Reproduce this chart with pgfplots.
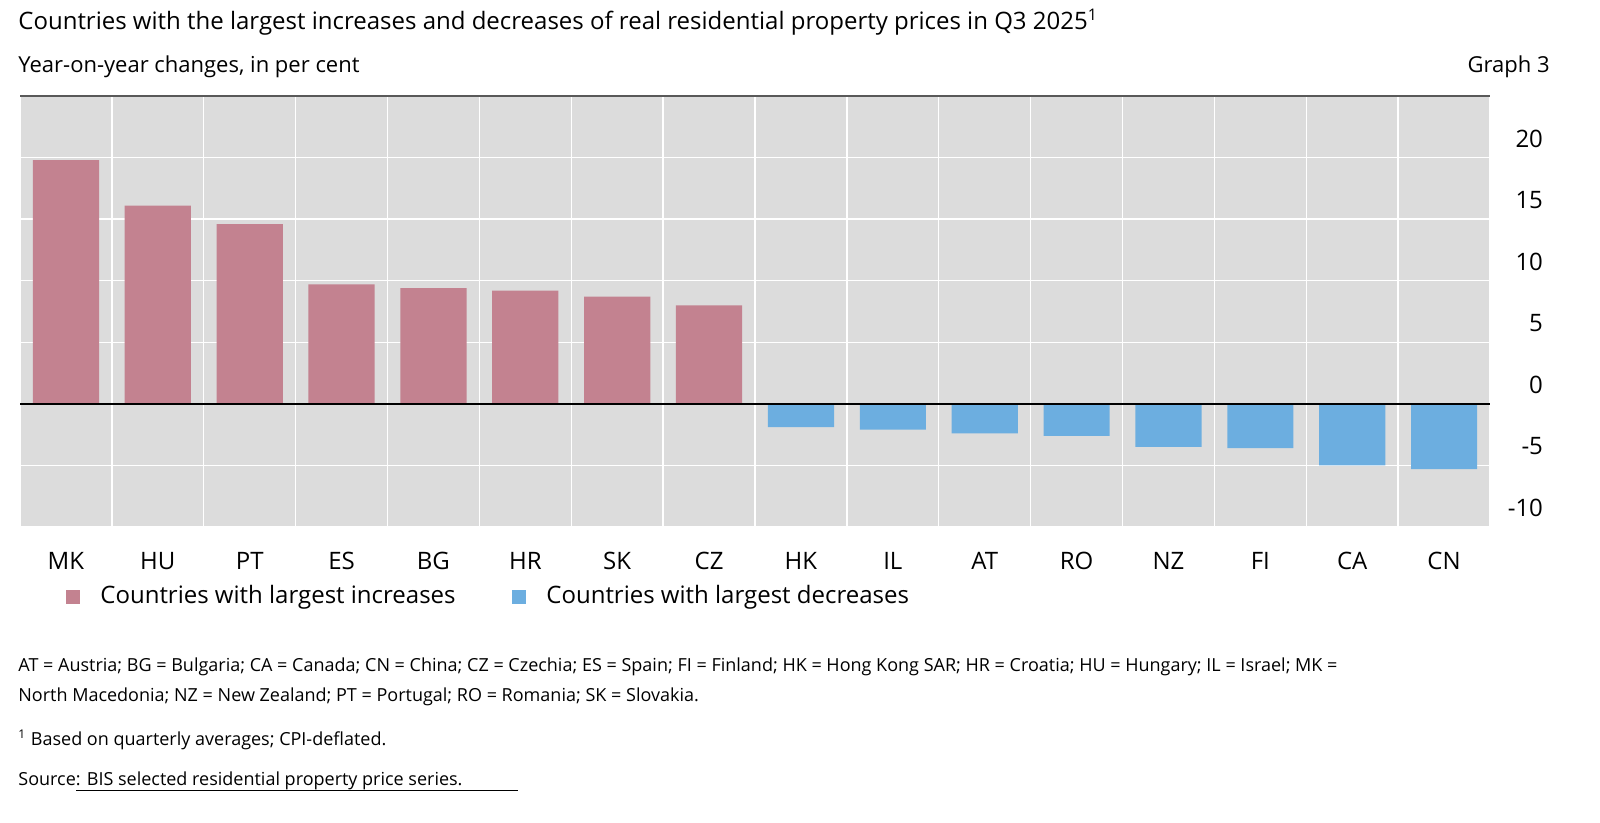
\documentclass[border=0pt]{standalone}
\usepackage{pgfplots}
\pgfplotsset{compat=1.18}
\usepackage{fontspec}
\setmainfont{Open Sans}
\definecolor{bg}{HTML}{DCDCDC}
\definecolor{pinkb}{HTML}{C38290}
\definecolor{blueb}{HTML}{6CAEE0}
\begin{document}
\begin{tikzpicture}
\path[use as bounding box] (0pt,0pt) rectangle (800pt,411.5pt);
\begin{axis}[at={(10pt,148pt)},anchor=south west,scale only axis,width=735pt,height=215.5pt,
  xmin=-0.5,xmax=15.5,ymin=-10,ymax=25,
  axis background/.style={fill=bg},
  axis line style={draw=none},
  xtick={0,...,15},xticklabels={MK,HU,PT,ES,BG,HR,SK,CZ,HK,IL,AT,RO,NZ,FI,CA,CN},
  major x tick style={draw=none},
  xticklabel style={yshift=-5pt,font=\fontsize{12}{14}\selectfont},
  extra x ticks={-0.5,0.5,...,15.5},extra x tick labels={},
  extra x tick style={grid=major,major grid style={white,line width=0.7pt},tick style={draw=black,line width=1pt},major tick length=11pt,tick align=inside},
  ytick={-10,-5,0,5,10,15,20},
  yticklabel pos=right,
  yticklabel style={anchor=east,xshift=30pt,yshift=9.5pt,font=\fontsize{12}{14}\selectfont},
  /pgf/number format/assume math mode=true,
  ymajorgrids,major grid style={white,line width=0.7pt},
  major y tick style={draw=none},
  ybar,bar width=0.72,bar shift=0pt,
  clip=false]
\addplot[fill=pinkb,draw=none] coordinates {(0,19.8)(1,16.1)(2,14.6)(3,9.7)(4,9.4)(5,9.2)(6,8.7)(7,8.0)};
\addplot[fill=blueb,draw=none] coordinates {(8,-1.9)(9,-2.1)(10,-2.4)(11,-2.6)(12,-3.5)(13,-3.6)(14,-5.0)(15,-5.3)};
\draw[black,line width=0.7pt] (axis cs:-0.5,0) -- (axis cs:15.5,0);
\draw[gray!70!black,line width=1pt] (axis cs:-0.5,25) -- (axis cs:15.5,25);
\end{axis}
\node[anchor=west,inner sep=0] at (9pt,400.5pt) {\fontsize{12}{14}\selectfont Countries with the largest increases and decreases of real residential property prices in Q3 2025\textsuperscript{1}};
\node[anchor=west,inner sep=0] at (9pt,378pt) {\fontsize{11}{13}\selectfont Year-on-year changes, in per cent};
\node[anchor=east,inner sep=0] at (775pt,378pt) {\fontsize{11}{13}\selectfont Graph 3};
\fill[pinkb] (33pt,109.5pt) rectangle (40pt,116.5pt);
\node[anchor=west,inner sep=0] at (50pt,113pt) {\fontsize{12}{14}\selectfont Countries with largest increases};
\fill[blueb] (256pt,109.5pt) rectangle (263pt,116.5pt);
\node[anchor=west,inner sep=0] at (273pt,113pt) {\fontsize{12}{14}\selectfont Countries with largest decreases};
\node[anchor=west,inner sep=0] at (9pt,78pt) {\fontsize{9}{11}\selectfont AT = Austria; BG = Bulgaria; CA = Canada; CN = China; CZ = Czechia; ES = Spain; FI = Finland; HK = Hong Kong SAR; HR = Croatia; HU = Hungary; IL = Israel; MK =};
\node[anchor=west,inner sep=0] at (9pt,63pt) {\fontsize{9}{11}\selectfont North Macedonia; NZ = New Zealand; PT = Portugal; RO = Romania; SK = Slovakia.};
\node[anchor=west,inner sep=0] at (9pt,41.5pt) {\fontsize{9}{11}\selectfont \textsuperscript{1} Based on quarterly averages; CPI-deflated.};
\node[anchor=west,inner sep=0] at (9pt,21pt) {\fontsize{9}{11}\selectfont Source: BIS selected residential property price series.};
\draw[line width=0.4pt] (38pt,16.5pt) -- (259pt,16.5pt);
\end{tikzpicture}
\end{document}
